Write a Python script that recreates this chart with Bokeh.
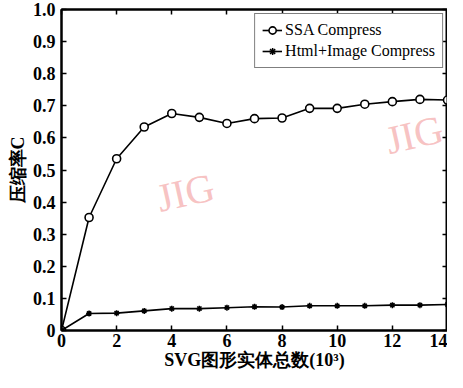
from bokeh.plotting import figure
from bokeh.models import Range1d, FixedTicker, LinearAxis, Legend, LegendItem
from bokeh.core.properties import value
from bokeh.embed import file_html
from bokeh.resources import INLINE

x_vals = [0, 1, 2, 3, 4, 5, 6, 7, 8, 9, 10, 11, 12, 13, 14]
ssa = [0.0, 0.352, 0.535, 0.634, 0.676, 0.664, 0.645, 0.66, 0.662, 0.692, 0.692, 0.705, 0.713, 0.72, 0.718]
html_img = [0.0, 0.053, 0.054, 0.061, 0.068, 0.068, 0.071, 0.074, 0.073, 0.077, 0.077, 0.077, 0.079, 0.079, 0.081]
x_ticks = [0, 2, 4, 6, 8, 10, 12, 14]
y_ticks = [0, 0.1, 0.2, 0.3, 0.4, 0.5, 0.6, 0.7, 0.8, 0.9, 1.0]
x_title = "SVG图形实体总数(10³)"
y_title = "压缩率C"
wm_x = [4.5, 12.8]
wm_y = [0.43, 0.61]
wm_text = ["JIG", "JIG"]

SERIF = "Liberation Serif"

p = figure(width=447, height=372, output_backend="svg", toolbar_location=None,
           x_range=Range1d(0, 14), y_range=Range1d(0, 1),
           min_border_left=61, min_border_right=0, min_border_top=9, min_border_bottom=36)
p.background_fill_color = "white"
p.border_fill_color = "white"
p.grid.visible = False
p.outline_line_color = "black"
p.outline_line_width = 2

# watermark
p.text(x=wm_x, y=wm_y, text=wm_text, angle=0.22, text_align="center", text_baseline="middle",
       text_font=value(SERIF), text_font_size="40px", text_color="#f5b3b3", text_alpha=0.8)

def style_axis(ax, labels=True):
    ax.axis_line_width = 2
    ax.axis_line_color = "black"
    ax.major_tick_in = 5
    ax.major_tick_out = 0
    ax.major_tick_line_width = 1.5
    ax.minor_tick_line_color = None
    ax.major_label_text_font = SERIF
    ax.major_label_text_font_style = "bold"
    ax.major_label_text_font_size = "18px"
    ax.major_label_text_color = "black"
    if not labels:
        ax.major_label_text_font_size = "0px"
        ax.major_label_text_alpha = 0
        ax.major_label_standoff = 0

xa = p.xaxis[0]
ya = p.yaxis[0]
xa.ticker = FixedTicker(ticks=x_ticks)
ya.ticker = FixedTicker(ticks=y_ticks)
style_axis(xa)
style_axis(ya)
ya.major_label_overrides = {0: "0", 1: "1.0"}
xa.major_label_standoff = 3
ya.major_label_standoff = 6
xa.axis_label = x_title
ya.axis_label = y_title
for ax in (xa, ya):
    ax.axis_label_text_font = SERIF
    ax.axis_label_text_font_style = "bold"
    ax.axis_label_text_font_size = "18px"
    ax.axis_label_text_color = "black"
xa.axis_label_standoff = 0
ya.axis_label_standoff = 2

top = LinearAxis(ticker=FixedTicker(ticks=x_ticks))
right = LinearAxis(ticker=FixedTicker(ticks=y_ticks))
style_axis(top, labels=False)
style_axis(right, labels=False)
p.add_layout(top, "above")
p.add_layout(right, "right")

r1 = p.line(x_vals, ssa, line_color="black", line_width=1.6)
m1 = p.scatter(x_vals, ssa, marker="circle", size=8, fill_color="white", line_color="black", line_width=1.6)
r2 = p.line(x_vals, html_img, line_color="black", line_width=1.6)
m2 = p.scatter(x_vals, html_img, marker="asterisk", size=6, line_color="black", line_width=1.5)

legend = Legend(items=[LegendItem(label="SSA Compress", renderers=[r1, m1]),
                       LegendItem(label="Html+Image Compress", renderers=[r2, m2])],
                location="top_right")
legend.label_text_font = SERIF
legend.label_text_font_size = "16px"
legend.label_text_color = "black"
legend.glyph_width = 20
legend.glyph_height = 18
legend.label_height = 18
legend.label_standoff = 3
legend.spacing = 3
legend.padding = 7
legend.margin = 4
legend.border_line_color = "black"
legend.border_line_width = 1.2
legend.background_fill_alpha = 1
p.add_layout(legend)

open("out.html", "w").write(file_html(p, INLINE))
